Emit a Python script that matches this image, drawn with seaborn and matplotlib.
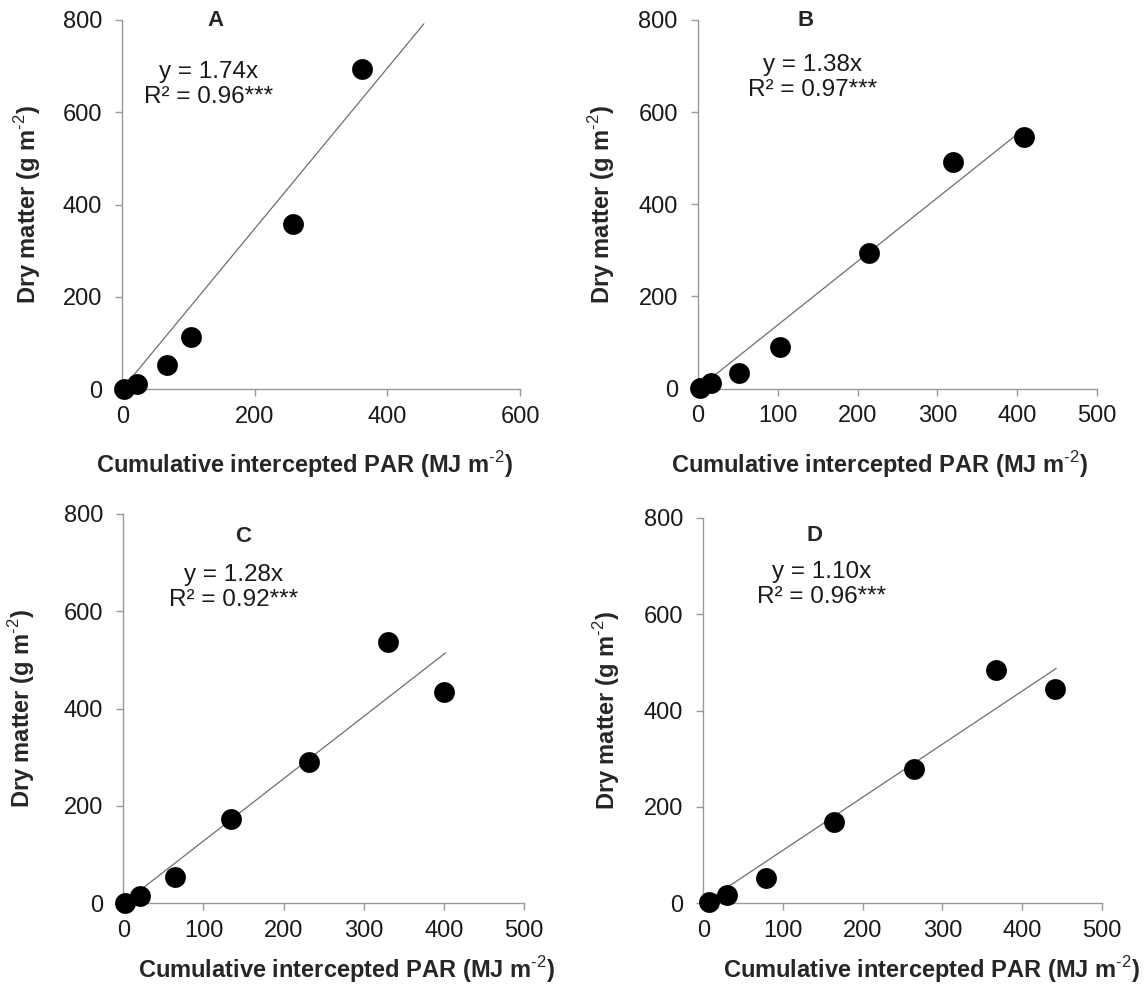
import matplotlib

matplotlib.use("Agg")

import matplotlib.pyplot as plt
import pandas as pd
import seaborn as sns

# values
panels = ["A", "B", "C", "D"]
par_a = [2.7, 21.5, 67, 104, 257, 361]
dm_a = [0, 10, 52, 112, 357, 693]
par_b = [2, 16, 52, 103, 214, 320, 409]
dm_b = [1.5, 11, 33, 91, 295, 491, 545]
par_c = [2, 21, 65, 134, 232, 330, 400]
dm_c = [0, 14, 55, 173, 291, 537, 434]
par_d = [7, 30, 79, 164, 264, 368, 442]
dm_d = [3, 17, 53, 169, 279, 483, 445]
slopes = [1.74, 1.38, 1.28, 1.10]
r_squared = ["0.96", "0.97", "0.92", "0.96"]
line_end = [455, 409, 402, 443]
x_max = [600, 500, 500, 500]
x_step = [200, 100, 100, 100]

sns.set_style("ticks")
plt.rcParams["mathtext.fontset"] = "custom"
plt.rcParams["mathtext.rm"] = "Liberation Sans"
plt.rcParams["mathtext.bf"] = "Liberation Sans:bold"

W, H = 1148, 991
# axes boxes in pixels: left, top, right, bottom
boxes = [
    (122.3, 20, 520, 389),
    (698, 20, 1097, 388.5),
    (123.3, 514, 524, 903.3),
    (703.3, 517.7, 1101.6, 903.3),
]
# text anchors: x as axes fraction, y in data units
letter_pos = [(0.234, 798), (0.269, 798), (0.298, 753), (0.279, 764)]
eq_x = [0.218, 0.288, 0.275, 0.298]
eq_y1 = [688, 702, 675, 688]
eq_y2 = [633, 648, 623, 636]
xlabel_coords = [(0.457, -0.206), (0.455, -0.206), (0.558, -0.171), (0.572, -0.173)]
ylabel_x = [-0.238, -0.241, -0.253, -0.242]

data = [(par_a, dm_a), (par_b, dm_b), (par_c, dm_c), (par_d, dm_d)]
axis_grey = "#999999"
text_col = "#1a1a1a"
font = ["Liberation Sans", "DejaVu Sans"]

fig = plt.figure(figsize=(W / 100, H / 100), dpi=100)
fig.patch.set_facecolor("white")

for i, name in enumerate(panels):
    l, t, r, b = boxes[i]
    ax = fig.add_axes([l / W, 1 - b / H, (r - l) / W, (b - t) / H])
    xs, ys = data[i]
    df = pd.DataFrame({"par": xs, "dm": ys})

    fit = pd.DataFrame({"par": [min(xs), line_end[i]]})
    fit["dm"] = slopes[i] * fit["par"]
    sns.lineplot(data=fit, x="par", y="dm", color="#6e6e6e", linewidth=0.9, ax=ax)
    sns.scatterplot(
        data=df, x="par", y="dm", color="black", s=225,
        edgecolor="black", linewidth=0, clip_on=False, zorder=3, ax=ax,
    )

    ax.set_xlim(0, x_max[i])
    ax.set_ylim(0, 800)
    ax.set_xticks(range(0, x_max[i] + 1, x_step[i]))
    ax.set_yticks(range(0, 801, 200))
    sns.despine(ax=ax)
    for side in ("left", "bottom"):
        ax.spines[side].set_color(axis_grey)
        ax.spines[side].set_linewidth(1.0)
    ax.tick_params(axis="both", direction="out", length=5, width=1.0,
                   color=axis_grey, labelsize=17, labelcolor=text_col)
    ax.tick_params(axis="x", pad=7)
    ax.tick_params(axis="y", pad=9.5)
    for lab in ax.get_xticklabels() + ax.get_yticklabels():
        lab.set_family(font)

    ax.set_xlabel(r"Cumulative intercepted PAR (MJ m$^{\text{-2}}$)",
                  fontsize=17, fontweight="bold", family=font, va="center")
    ax.set_ylabel(r"Dry matter (g m$^{\text{-2}}$)",
                  fontsize=17, fontweight="bold", family=font, va="center")
    ax.xaxis.set_label_coords(*xlabel_coords[i])
    ax.yaxis.set_label_coords(ylabel_x[i], 0.5)

    blend = ax.get_yaxis_transform()
    ax.text(letter_pos[i][0], letter_pos[i][1], name, transform=blend,
            fontsize=16, fontweight="bold", family=font, ha="center", va="center")
    ax.text(eq_x[i], eq_y1[i], f"y = {slopes[i]:.2f}x", transform=blend,
            fontsize=17.5, family=font, ha="center", va="center", color=text_col)
    ax.text(eq_x[i], eq_y2[i], f"R² = {r_squared[i]}***", transform=blend,
            fontsize=17.5, family=font, ha="center", va="center", color=text_col)

fig.savefig("out.png", dpi=100, facecolor="white")
